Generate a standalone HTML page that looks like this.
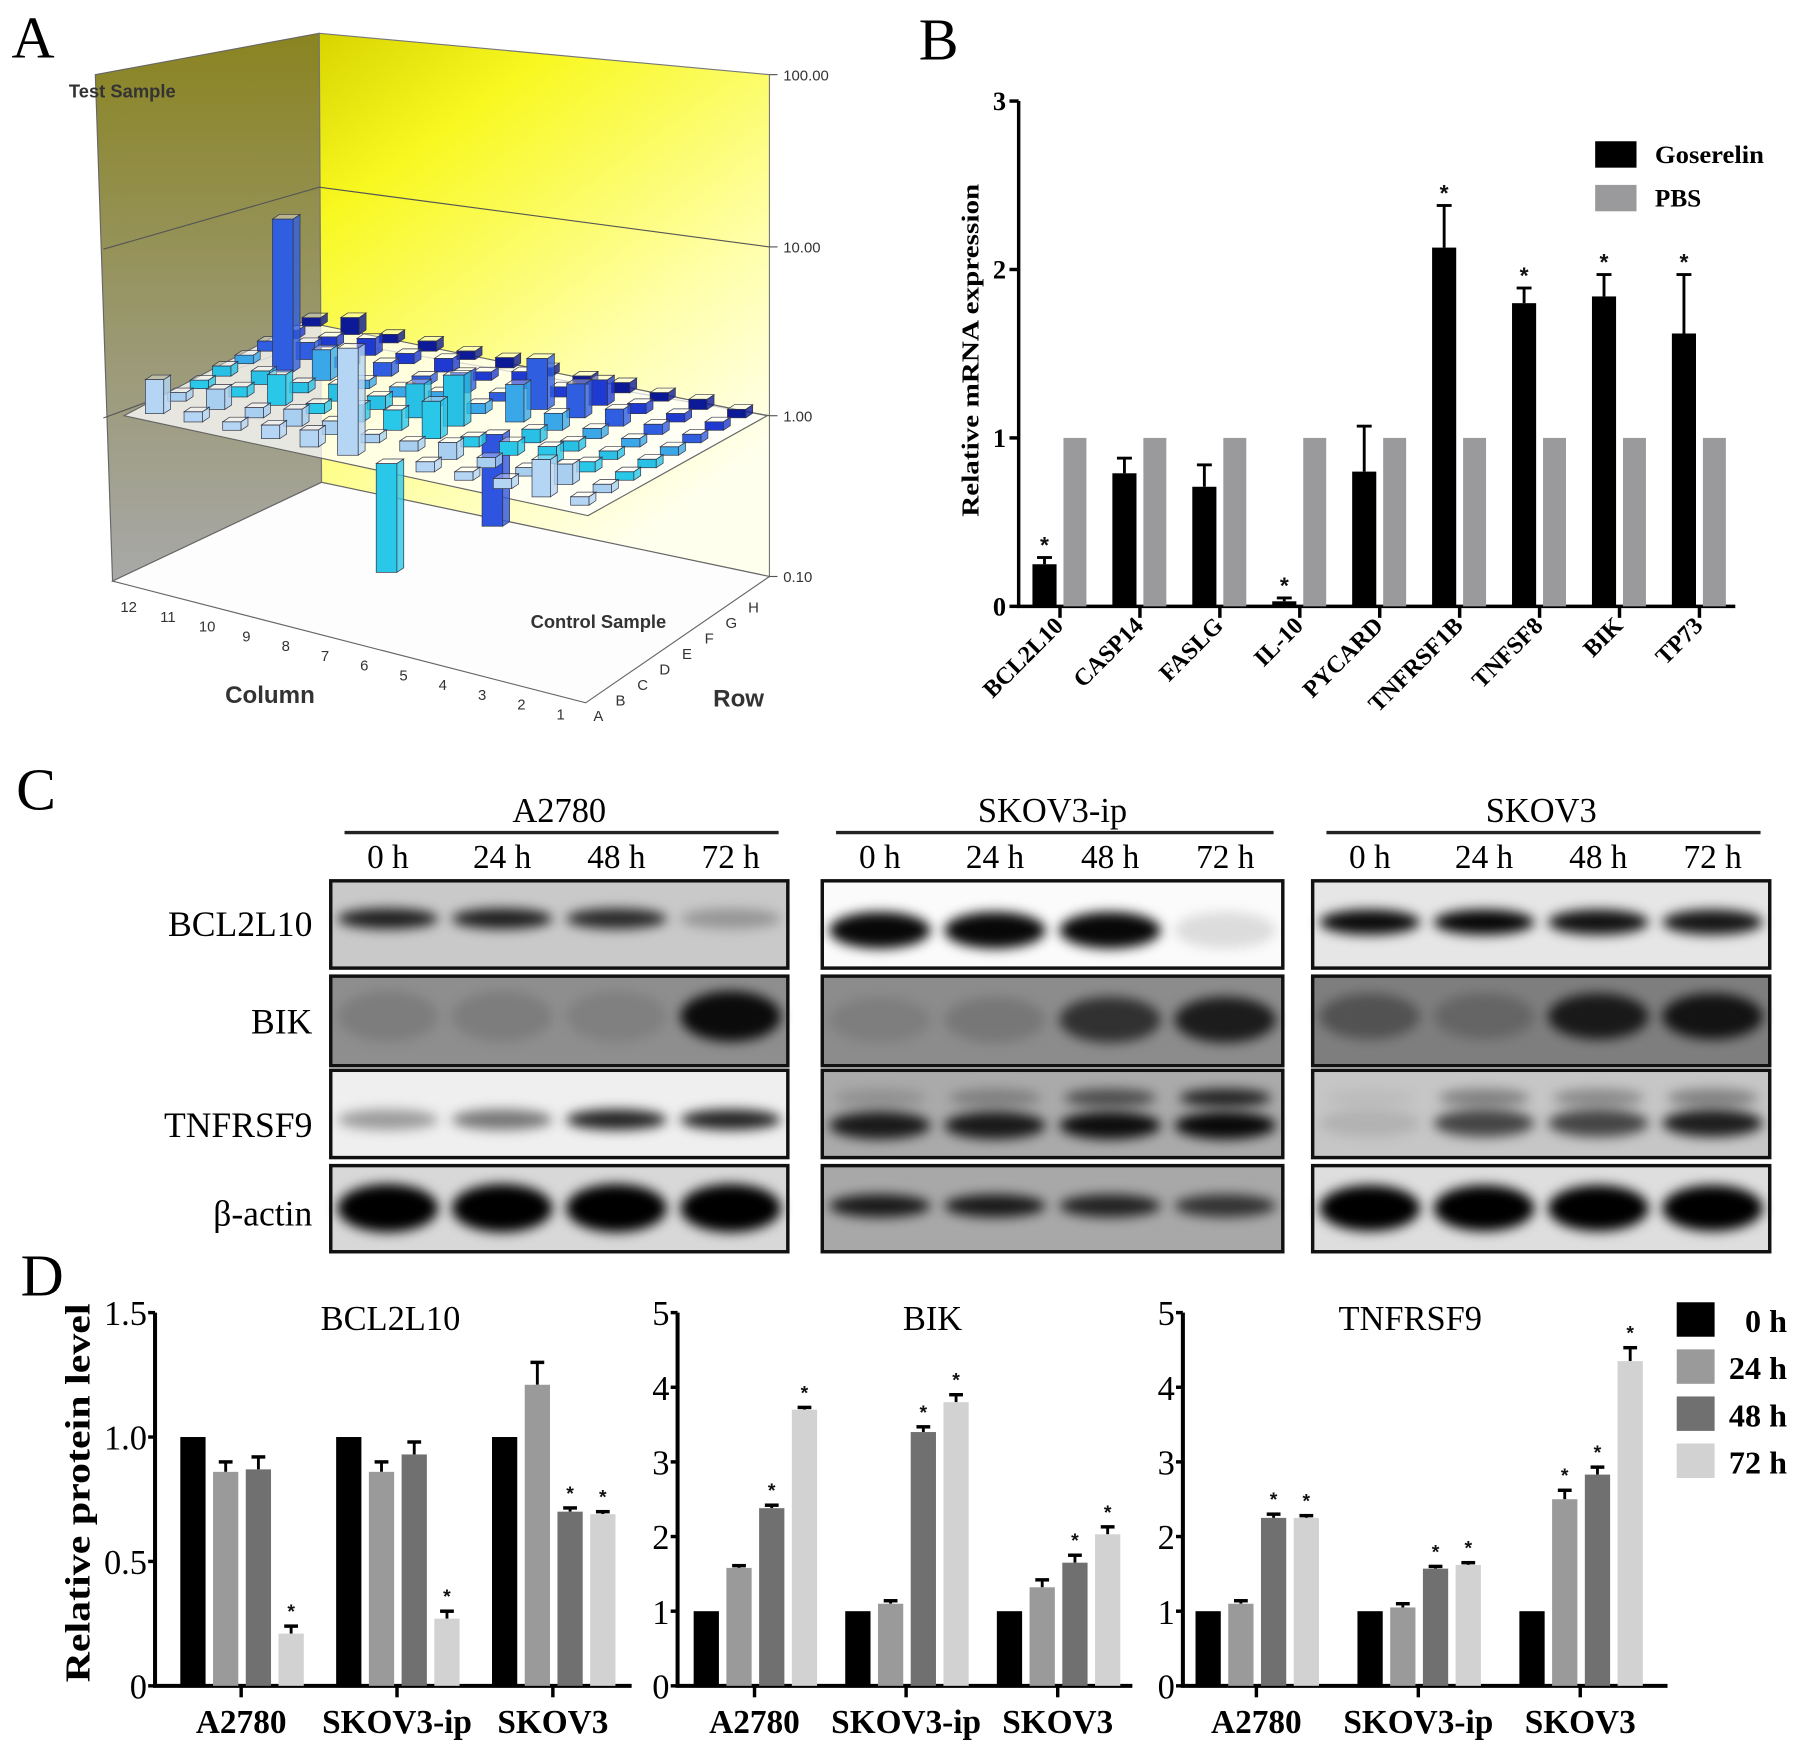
<!DOCTYPE html>
<html><head><meta charset="utf-8"><style>
html,body{margin:0;padding:0;background:#fff;}
svg{display:block;}
</style></head><body>
<svg id="fig" xmlns="http://www.w3.org/2000/svg" width="1795" height="1749" viewBox="0 0 1563 1523" preserveAspectRatio="none">
<defs>
<linearGradient id="gLeft" x1="0" y1="0" x2="0" y2="1"><stop offset="0" stop-color="#8a8420"/><stop offset="0.55" stop-color="#9a9870"/><stop offset="1" stop-color="#a8a8a8"/></linearGradient>
<linearGradient id="gBack" x1="0" y1="0" x2="0.6" y2="1"><stop offset="0" stop-color="#d8d400"/><stop offset="0.25" stop-color="#f8f820"/><stop offset="0.7" stop-color="#ffffa8"/><stop offset="1" stop-color="#ffffee"/></linearGradient>
<filter id="blur" x="-50%" y="-100%" width="200%" height="300%"><feGaussianBlur stdDeviation="5"/></filter>
</defs>
<g id="pA"></g>
<g id="pB"></g>
<g id="pC"></g>
<g id="pD"></g>
</svg>
<script>
// ---------- Panel B data ----------
const bGenes = ['BCL2L10','CASP14','FASLG','IL-10','PYCARD','TNFRSF1B','TNFSF8','BIK','TP73'];
const bGoserelin = [0.25,0.79,0.71,0.03,0.80,2.13,1.80,1.84,1.62];
const bGoserelinErr = [0.04,0.09,0.13,0.02,0.27,0.25,0.09,0.13,0.35];
const bPBS = [1,1,1,1,1,1,1,1,1];
const bStars = [1,0,0,1,0,1,1,1,1];
const bTicks = [0,1,2,3];
// ---------- Panel D data ----------
const dCells = ['A2780','SKOV3-ip','SKOV3'];
const dTimes = ['0 h','24 h','48 h','72 h'];
const dBclVals = [[1,0.86,0.87,0.21],[1,0.86,0.93,0.27],[1,1.21,0.70,0.69]];
const dBclErr = [[0,0.04,0.05,0.03],[0,0.04,0.05,0.03],[0,0.09,0.015,0.01]];
const dBclStar = [[0,0,0,1],[0,0,0,1],[0,0,1,1]];
const dBclTicks = [0,0.5,1.0,1.5];
const dBclTickLabels = ['0','0.5','1.0','1.5'];
const dBikVals = [[1,1.58,2.38,3.70],[1,1.10,3.40,3.80],[1,1.32,1.65,2.03]];
const dBikErr = [[0,0.03,0.04,0.03],[0,0.04,0.07,0.10],[0,0.10,0.10,0.10]];
const dBikStar = [[0,0,1,1],[0,0,1,1],[0,0,1,1]];
const dTnfVals = [[1,1.10,2.25,2.25],[1,1.05,1.57,1.62],[1,2.50,2.83,4.35]];
const dTnfErr = [[0,0.04,0.05,0.03],[0,0.05,0.03,0.03],[0,0.12,0.10,0.18]];
const dTnfStar = [[0,0,1,1],[0,0,1,1],[0,1,1,1]];
const d5Ticks = [0,1,2,3,4,5];
// ---------- Panel A data (log10 fold, rows A..H, columns 12..1) ----------
const aRows = ['A','B','C','D','E','F','G','H'];
const aCols = ['12','11','10','9','8','7','6','5','4','3','2','1'];
const aHeights = [
 [0.20,0.06,0.05,0.08,0.10,0.63,-0.64,0.06,0.05,0.06,0.22,0.05],
 [0.05,0.12,0.06,0.10,0.08,0.05,0.06,0.10,0.06,0.05,0.12,0.05],
 [0.05,0.06,0.18,0.06,0.10,0.12,0.22,0.06,0.08,0.10,0.06,0.05],
 [0.06,0.08,0.06,0.10,0.08,0.20,0.30,-0.54,0.08,0.06,0.05,0.05],
 [0.05,0.90,0.18,0.05,0.06,0.08,0.06,0.22,0.10,0.06,0.05,0.05],
 [0.06,0.10,0.06,0.08,0.05,0.12,0.05,0.30,0.20,0.10,0.06,0.05],
 [0.05,0.06,0.10,0.06,0.08,0.05,0.10,0.06,0.15,0.06,0.05,0.05],
 [0.05,0.10,0.05,0.06,0.05,0.06,0.05,0.05,0.06,0.05,0.06,0.05]];
const aRowColors = ['#b4d6f4','#a8cff0','#2ac8e8','#28c0e4','#3aa8e8','#2f5fe0','#1e3ad0','#0c1a98'];
const aColorOverrides = [['A','6','#2ac8e8'],['D','5','#2f55e0'],['E','11','#2f5fe0']];
const aZTicks = ['0.10','1.00','10.00','100.00'];

const NS='http://www.w3.org/2000/svg';
function mk(parent, tag, attrs, txt){
  const e=document.createElementNS(NS,tag);
  for(const k in attrs) e.setAttribute(k, attrs[k]);
  if(txt!==undefined) e.textContent=txt;
  parent.appendChild(e); return e;
}
const SERIF='"Liberation Serif", "DejaVu Serif", serif';
const SANS='"Liberation Sans", "DejaVu Sans", sans-serif';
function star(parent,x,y,size){
  const t=mk(parent,'text',{x:x,y:y,'text-anchor':'middle','font-family':SANS,'font-size':size||18,'font-weight':'bold',fill:'#111'},'*');
  
  
  return t;
}

// ================= Panel A =================
(function(){
  const g=document.getElementById('pA');
  const L=mk(g,'text',{x:10,y:50,'font-family':SERIF,'font-size':52},'A');
  
  
  const lw=mk(g,'polygon',{points:'83,65 278,29 280,420 98,506',fill:'url(#gLeft)',stroke:'#666','stroke-width':1});
  
  
  const bw=mk(g,'polygon',{points:'278,29 670,65 670,502 280,420',fill:'url(#gBack)',stroke:'#777','stroke-width':1});
  
  
  const fl=mk(g,'polygon',{points:'98,506 280,420 670,502 510,612',fill:'#fdfdfd',stroke:'#666','stroke-width':1});
  
  
  const zLeftY=[506,364,217,65], zMidY=[420,295,163,29], zRightY=[502,362,215,65];
  aZTicks.forEach((t,i)=>{
    if(i>0&&i<3){
      const l=mk(g,'polyline',{points:`${90},${zLeftY[i]} 278,${zMidY[i]} 670,${zRightY[i]}`,fill:'none',stroke:'#555','stroke-width':1});
      
      
    }
    const tk=mk(g,'line',{x1:670,y1:zRightY[i],x2:677,y2:zRightY[i],stroke:'#555'});
    
    
    const tx=mk(g,'text',{x:682,y:zRightY[i]+5,'font-family':SANS,'font-size':13,fill:'#333'},t);
    
    
  });
  const pl=mk(g,'polygon',{points:'108,362 264,280 668,362 512,449',fill:'#ffffff','fill-opacity':0.75,stroke:'#666','stroke-width':1});
  
  
  function cell(ci,ri){
    const u=(ci+0.5)/12, v=(ri+0.5)/8;
    return [108+u*404+v*156, 362+u*87-v*87];
  }
  function colorFor(ri,ci){
    let c=aRowColors[ri];
    aColorOverrides.forEach(o=>{ if(o[0]===aRows[ri]&&o[1]===aCols[ci]) c=o[2]; });
    return c;
  }
  const pxPerDec=148;
  for(let ri=7;ri>=0;ri--){
    for(let ci=0;ci<12;ci++){
      const h=aHeights[ri][ci]*pxPerDec;
      if(Math.abs(h)<0.5) continue;
      const [x,y]=cell(ci,ri);
      const col=colorFor(ri,ci);
      const bg=mk(g,'g',{});
      
      
      const w=Math.abs(h)>40?9:8, d=6, dy=4;
      let top = h>0 ? y-h : y;
      let bot = h>0 ? y : y-h;
      mk(bg,'rect',{x:x-w,y:top,width:2*w,height:bot-top,fill:col,stroke:'#334','stroke-width':0.6});
      mk(bg,'polygon',{points:`${x+w},${top} ${x+w+d},${top-dy} ${x+w+d},${bot-dy} ${x+w},${bot}`,fill:col,'fill-opacity':0.8,stroke:'#334','stroke-width':0.6});
      mk(bg,'polygon',{points:`${x-w},${top} ${x+w},${top} ${x+w+d},${top-dy} ${x-w+d},${top-dy}`,fill:'#fff','fill-opacity':0.35,stroke:'#334','stroke-width':0.6});
    }
  }
  aCols.forEach((c,i)=>{
    const t=mk(g,'text',{x:112+i*34.2,y:533+i*8.5,'font-family':SANS,'font-size':13,fill:'#333','text-anchor':'middle'},c);
    
    
  });
  aRows.forEach((r,i)=>{
    const t=mk(g,'text',{x:521+i*19.3,y:628-i*13.5,'font-family':SANS,'font-size':13,fill:'#333','text-anchor':'middle'},r);
    
    
  });
  const labs=[['Test Sample',60,85,16,'test-sample-label'],['Control Sample',462,547,16,'control-sample-label'],['Column',196,612,21,'column-axis-title'],['Row',621,615,21,'row-axis-title']];
  labs.forEach(l=>{
    const t=mk(g,'text',{x:l[1],y:l[2],'font-family':SANS,'font-size':l[3],'font-weight':'bold',fill:'#333'},l[0]);
    
    
  });
})();

// ================= Panel B =================
(function(){
  const g=document.getElementById('pB');
  const L=mk(g,'text',{x:800,y:52,'font-family':SERIF,'font-size':52},'B');
  
  
  const X0=887, Y0=528, Y3=88, XEND=1511;
  const yS=v=>Y0-(Y0-Y3)*v/3;
  const step=69.6;
  const ax=mk(g,'path',{d:`M${X0},${Y3} V${Y0} H${XEND}`,fill:'none',stroke:'#000','stroke-width':3});
  
  
  bTicks.forEach(t=>{
    const l=mk(g,'line',{x1:X0-8,y1:yS(t),x2:X0,y2:yS(t),stroke:'#000','stroke-width':3});
    
    
    const tx=mk(g,'text',{x:X0-11,y:yS(t)+8,'text-anchor':'end','font-family':SERIF,'font-size':23,'font-weight':'bold'},String(t));
    
    
  });
  bGenes.forEach((gn,i)=>{
    const bx=899+i*step, gx=926+i*step;
    const e=mk(g,'line',{x1:bx+10.5,y1:yS(bGoserelin[i]),x2:bx+10.5,y2:yS(bGoserelin[i]+bGoserelinErr[i]),stroke:'#000','stroke-width':2.5});
    
    
    const c=mk(g,'line',{x1:bx+4,y1:yS(bGoserelin[i]+bGoserelinErr[i]),x2:bx+17,y2:yS(bGoserelin[i]+bGoserelinErr[i]),stroke:'#000','stroke-width':2.5});
    
    
    const r=mk(g,'rect',{x:bx,y:yS(bGoserelin[i]),width:21,height:Y0-yS(bGoserelin[i]),fill:'#000'});
    
    
    const p=mk(g,'rect',{x:gx,y:yS(bPBS[i]),width:20,height:Y0-yS(bPBS[i]),fill:'#9a9a9c'});
    
    
    if(bStars[i]) star(g,bx+10.5,yS(bGoserelin[i]+bGoserelinErr[i])-4,20);
    const tx=923+i*step;
    const tk=mk(g,'line',{x1:tx,y1:Y0,x2:tx,y2:Y0+10,stroke:'#000','stroke-width':3});
    
    
    const lb=mk(g,'text',{x:tx+4,y:Y0+18,'text-anchor':'end','font-family':SERIF,'font-size':21,'font-weight':'bold',transform:`rotate(-45 ${tx+4} ${Y0+18})`},gn);
    
    
  });
  const yt=mk(g,'text',{x:852,y:305,'text-anchor':'middle','font-family':SERIF,'font-size':21,'font-weight':'bold',transform:'rotate(-90 852 305)',textLength:290,lengthAdjust:'spacingAndGlyphs'},'Relative mRNA expression');
  
  
  const lg=mk(g,'g',{});
  
  
  const r1=mk(lg,'rect',{x:1389,y:123,width:36,height:23,fill:'#000'});
  
  
  const t1=mk(lg,'text',{x:1441,y:142,'font-family':SERIF,'font-size':22,'font-weight':'bold',textLength:95,lengthAdjust:'spacingAndGlyphs'},'Goserelin');
  
  
  const r2=mk(lg,'rect',{x:1389,y:161,width:36,height:23,fill:'#9a9a9c'});
  
  
  const t2=mk(lg,'text',{x:1441,y:180,'font-family':SERIF,'font-size':22,'font-weight':'bold'},'PBS');
  
  
})();

// ================= Panel C =================
const cGroups = ['A2780','SKOV3-ip','SKOV3'];
const cProteins = ['BCL2L10','BIK','TNFRSF9','β-actin'];
const cMain = [
 [[0.85,0.85,0.8,0.25],[0.12,0.12,0.1,0.92],[0.35,0.5,0.85,0.85],[1,1,1,1]],
 [[0.97,0.97,0.97,0.12],[0.1,0.15,0.65,0.8],[0.85,0.85,0.92,0.95],[0.85,0.85,0.8,0.7]],
 [[0.95,0.97,0.92,0.9],[0.35,0.2,0.8,0.85],[0.1,0.65,0.65,0.85],[1,1,1,1]]];
const cUpper = [
 [[0,0,0,0],[0,0,0,0],[0,0,0,0],[0,0,0,0]],
 [[0,0,0,0],[0,0,0,0],[0.15,0.25,0.55,0.8],[0,0,0,0]],
 [[0,0,0,0],[0,0,0,0],[0.05,0.35,0.3,0.35],[0,0,0,0]]];
(function(){
  const g=document.getElementById('pC');
  const L=mk(g,'text',{x:14,y:705,'font-family':SERIF,'font-size':52},'C');
  
  
  const boxX=[[288,686],[716,1117],[1143,1541]];
  const boxY=[[767,843],[850,928],[932,1008],[1015,1090]];
  const bgs=[['#c9c9c9','#8e8e8e','#efefef','#d8d8d8'],['#fbfbfb','#8c8c8c','#aaaaaa','#a8a8a8'],['#e6e6e6','#7e7e7e','#c6c6c6','#dedede']];
  const bandY=[[800,885,975,1052],[810,888,980,1050],[803,885,978,1052]];
  const bandH=[[18,44,18,42],[32,40,24,20],[22,40,24,40]];
  const times=['0 h','24 h','48 h','72 h'];
  cGroups.forEach((grp,gi)=>{
    const [x0,x1]=boxX[gi];
    const cx=(x0+x1)/2;
    const h=mk(g,'text',{x:cx,y:716,'text-anchor':'middle','font-family':SERIF,'font-size':30},grp);
    
    
    const ln=mk(g,'line',{x1:x0+12,y1:725,x2:x1-8,y2:725,stroke:'#222','stroke-width':3});
    
    
    const lw=(x1-x0)/4;
    times.forEach((t,ti)=>{
      const tt=mk(g,'text',{x:x0+lw*(ti+0.5),y:756,'text-anchor':'middle','font-family':SERIF,'font-size':29},t);
      
      
    });
    cProteins.forEach((p,pi)=>{
      const [y0,y1]=boxY[pi];
      const bl=mk(g,'g',{});
      
      
      mk(bl,'rect',{x:x0,y:y0,width:x1-x0,height:y1-y0,fill:bgs[gi][pi]});
      for(let li=0;li<4;li++){
        const lx=x0+lw*(li+0.5);
        const a=cMain[gi][pi][li];
        if(a>0) mk(bl,'ellipse',{cx:lx,cy:bandY[gi][pi],rx:lw*0.44,ry:bandH[gi][pi]/2,fill:'#000','fill-opacity':a,filter:'url(#blur)'});
        const u=cUpper[gi][pi][li];
        if(u>0) mk(bl,'ellipse',{cx:lx,cy:956,rx:lw*0.4,ry:8,fill:'#000','fill-opacity':u,filter:'url(#blur)'});
      }
      mk(bl,'rect',{x:x0,y:y0,width:x1-x0,height:y1-y0,fill:'none',stroke:'#111','stroke-width':3});
    });
  });
  const ly=[815,900,990,1067];
  cProteins.forEach((p,pi)=>{
    const t=mk(g,'text',{x:272,y:ly[pi],'text-anchor':'end','font-family':SERIF,'font-size':31},p);
    
    
  });
})();

// ================= Panel D =================
(function(){
  const g=document.getElementById('pD');
  const L=mk(g,'text',{x:18,y:1128,'font-family':SERIF,'font-size':52},'D');
  
  
  const colors=['#000000','#9a9a9a','#707070','#d2d2d2'];
  const Y0=1468, YTOP=1143;
  function chart(name,title,vals,errs,stars,ticks,tickLabels,maxV,axX,xEnd,firstBar,grpStep,titleX){
    const cg=mk(g,'g',{});
    
    
    const yS=v=>Y0-(Y0-YTOP)*v/maxV;
    const ax=mk(cg,'path',{d:`M${axX},${YTOP} V${Y0} H${xEnd}`,fill:'none',stroke:'#000','stroke-width':3.5});
    
    
    ticks.forEach((t,i)=>{
      const l=mk(cg,'line',{x1:axX-6,y1:yS(t),x2:axX,y2:yS(t),stroke:'#000','stroke-width':3});
      
      
      const tx=mk(cg,'text',{x:axX-7,y:yS(t)+11,'text-anchor':'end','font-family':SERIF,'font-size':30},tickLabels[i]);
      
      
    });
    const tt=mk(cg,'text',{x:titleX,y:1158,'text-anchor':'middle','font-family':SERIF,'font-size':30},title);
    
    
    dCells.forEach((cell,ci)=>{
      const gx=firstBar+ci*grpStep;
      vals[ci].forEach((v,ti)=>{
        const bx=gx+ti*28.5;
        const e=errs[ci][ti];
        if(e>0){
          const el=mk(cg,'line',{x1:bx+11,y1:yS(v),x2:bx+11,y2:yS(v+e),stroke:'#000','stroke-width':2.5});
          
          
          const ec=mk(cg,'line',{x1:bx+5,y1:yS(v+e),x2:bx+17,y2:yS(v+e),stroke:'#000','stroke-width':3});
          
          
        }
        const r=mk(cg,'rect',{x:bx,y:yS(v),width:22,height:Y0-yS(v),fill:colors[ti]});
        
        
        if(stars[ci][ti]) star(cg,bx+11,yS(v+e)-7,17);
      });
      const tx=gx+53;
      const tk=mk(cg,'line',{x1:tx,y1:Y0,x2:tx,y2:Y0+10,stroke:'#000','stroke-width':3});
      
      
      const lb=mk(cg,'text',{x:tx,y:1509,'text-anchor':'middle','font-family':SERIF,'font-size':29,'font-weight':'bold'},cell);
      
      
    });
  }
  chart('chart-bcl2l10','BCL2L10',dBclVals,dBclErr,dBclStar,dBclTicks,dBclTickLabels,1.5,135,550,157,135.7,340);
  chart('chart-bik','BIK',dBikVals,dBikErr,dBikStar,d5Ticks,d5Ticks.map(String),5,590,986,604,132,812);
  chart('chart-tnfrsf9','TNFRSF9',dTnfVals,dTnfErr,dTnfStar,d5Ticks,d5Ticks.map(String),5,1030,1452,1041,141,1228);
  const yt=mk(g,'text',{x:78,y:1300,'text-anchor':'middle','font-family':SERIF,'font-size':30,'font-weight':'bold',transform:'rotate(-90 78 1300)',textLength:330,lengthAdjust:'spacingAndGlyphs'},'Relative protein level');
  
  
  const lg=mk(g,'g',{});
  
  
  dTimes.forEach((t,i)=>{
    const r=mk(lg,'rect',{x:1460,y:1134+i*41,width:33,height:30,fill:colors[i]});
    
    
    const tx=mk(lg,'text',{x:1556,y:1160+i*41,'text-anchor':'end','font-family':SERIF,'font-size':28,'font-weight':'bold'},t);
    
    
  });
})();
</script>
</body></html>
